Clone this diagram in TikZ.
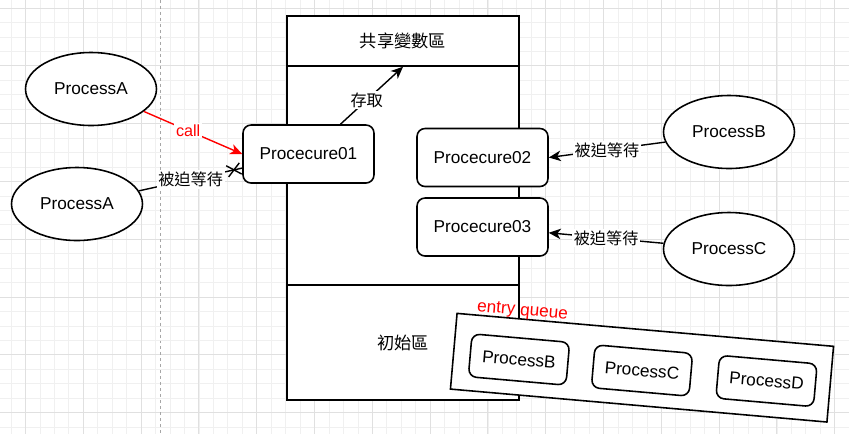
\documentclass[tikz,border=0pt]{standalone}
\usepackage{fontspec}
\setmainfont{Liberation Sans}
\newfontfamily\cjk{Noto Sans CJK TC}
\usetikzlibrary{shapes.geometric,shapes.misc,arrows.meta}

\tikzset{
  gridminor/.style={black!6, line width=0.4pt},
  gridmajor/.style={black!12, line width=0.5pt},
  proc/.style={ellipse, draw, line width=0.9pt, fill=white, minimum width=2.62cm, minimum height=1.46cm, inner sep=0pt, font=\fontsize{9.8}{11}\selectfont},
  procbox/.style={rectangle, draw, rounded corners=0.16cm, line width=0.9pt, fill=white, minimum width=2.62cm, minimum height=1.16cm, inner sep=0pt, font=\fontsize{9.8}{11}\selectfont},
  qbox/.style={rectangle, draw, rounded corners=0.16cm, line width=0.9pt, fill=white, minimum width=1.96cm, minimum height=0.86cm, inner sep=0pt, rotate=-5, font=\fontsize{9.8}{11}\selectfont},
  area/.style={rectangle, draw, line width=0.9pt, fill=white, minimum width=4.64cm, inner sep=0pt, font=\cjk\fontsize{9.8}{11}\selectfont},
  link/.style={line width=0.8pt, -{Stealth[length=2.4mm, width=2.1mm, inset=0.7mm]}},
  edgelabel/.style={fill=white, inner sep=1pt, font=\fontsize{9.2}{10}\selectfont},
  stopmark/.style={cross out, draw, line width=0.8pt, minimum width=0.24cm, minimum height=0.2cm, inner sep=0pt}
}

\begin{document}
\begin{tikzpicture}[x=0.02cm, y=-0.02cm]
        % Background and grid
        \useasboundingbox (0,0) rectangle (849,434);
        \fill[white] (0,0) rectangle (849,434);
        \foreach \k in {0,...,58}
          \draw[gridminor] ({11.05+14.45*\k},0) -- ({11.05+14.45*\k},434);
        \foreach \k in {0,...,29}
          \draw[gridminor] (0,{8+14.45*\k}) -- (849,{8+14.45*\k});
        \foreach \k in {0,...,14}
          \draw[gridmajor] ({25.5+57.8*\k},0) -- ({25.5+57.8*\k},434);
        \foreach \k in {0,...,7}
          \draw[gridmajor] (0,{8+57.8*\k}) -- (849,{8+57.8*\k});
        \draw[black!35, line width=0.5pt, dash pattern=on 1.7pt off 1.7pt] (160,0) -- (160,434);

        % Monitor areas
        \node[area, minimum height=1.0cm] (shared) at (403,41) {共享變數區};
        \node[area, minimum height=4.38cm] (mid) at (403,175.5) {};
        \node[area, minimum height=2.3cm] (init) at (403,342.5) {初始區};

        % Procedures
        \node[procbox] (p1) at (308.5,154) {Procecure01};
        \node[procbox] (p2) at (482.5,157.5) {Procecure02};
        \node[procbox] (p3) at (482.5,227) {Procecure03};

        % Processes
        \node[proc] (pa1) at (91,89) {ProcessA};
        \node[proc] (pa2) at (77,204) {ProcessA};
        \node[proc] (pb) at (729,132) {ProcessB};
        \node[proc] (pc) at (729,249) {ProcessC};

        % Entry queue
        \node[rectangle, draw, line width=0.9pt, fill=white, minimum width=7.56cm, minimum height=1.52cm, rotate=-5] (queue) at (642,367.7) {};
        \node[text=red, inner sep=0pt, rotate=-5, font=\fontsize{9.8}{11}\selectfont] (qlabel) at (522.5,311.5) {entry queue};
        \node[qbox] (qb) at (519,359.5) {ProcessB};
        \node[qbox] (qc) at (642,370.5) {ProcessC};
        \node[qbox] (qd) at (766.5,381) {ProcessD};

        % Connectors
        \draw[link, red] (pa1.-23) -- node[edgelabel, pos=0.45, text=red] {call} (p1.west);
        \draw[line width=0.8pt] (pa2.12) -- node[edgelabel] {\cjk 被迫等待} node[stopmark, pos=0.92, sloped] {} (p1.192);
        \draw[link] (p1.43) -- node[edgelabel, pos=0.42] {\cjk 存取} (shared.south);
        \draw[link] (pb.189) -- node[edgelabel] {\cjk 被迫等待} (p2.east);
        \draw[link] (pc.175) -- node[edgelabel] {\cjk 被迫等待} (p3.-5);
\end{tikzpicture}
\end{document}
